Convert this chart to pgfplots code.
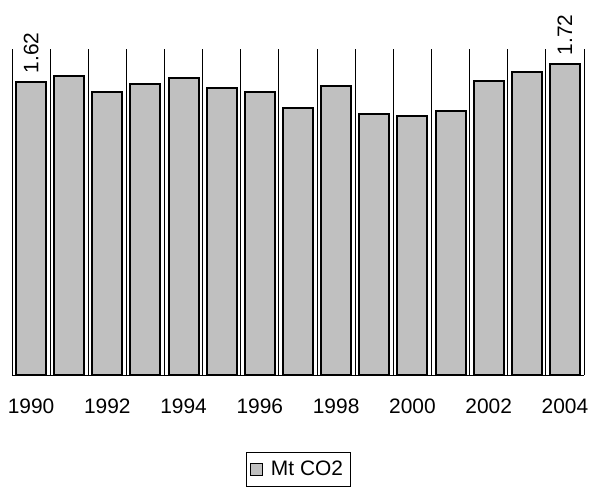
\documentclass[border=0pt]{standalone}
\usepackage{pgfplots}
\pgfplotsset{compat=1.18}
\usepackage{fontspec}
\setmainfont{Liberation Sans}
\definecolor{barfill}{RGB}{192,192,192}
\newcommand{\chartfont}{\fontsize{21}{25}\selectfont}
\begin{document}
\begin{tikzpicture}
\begin{axis}[
  scale only axis,
  width=572bp, height=326bp,
  xmin=-0.5, xmax=14.5, ymin=0, ymax=1.8,
  axis line style={draw=none},
  ytick=\empty,
  xtick={0,2,...,14},
  xticklabels={1990,1992,1994,1996,1998,2000,2002,2004},
  major tick length=0, minor tick length=0,
  minor xtick={-0.5,0.5,...,14.5},
  xminorgrids,
  minor grid style={black, line width=0.9bp},
  extra y ticks={0}, extra y tick labels={},
  extra y tick style={grid=major, major grid style={black, line width=0.9bp}},
  xticklabel style={font=\chartfont, yshift=-20bp},
  ybar, bar width=30bp, bar shift=0pt,
  legend style={at={(0.5,0)}, anchor=north, yshift=-77bp, draw=black,
    font=\chartfont, inner xsep=4bp, inner ysep=7bp, column sep=5bp,
    nodes={inner xsep=3bp}},
  legend image code/.code={\draw[fill=barfill, draw=black, line width=1bp] (2bp,-6bp) rectangle (14bp,6bp);},
]
\addplot[fill=barfill, draw=black, line width=2bp] coordinates {
  (0,1.620) (1,1.649) (2,1.565) (3,1.607) (4,1.640)
  (5,1.583) (6,1.561) (7,1.475) (8,1.598) (9,1.443)
  (10,1.432) (11,1.455) (12,1.622) (13,1.675) (14,1.719)
};
\addlegendentry{Mt CO2}
% value labels on the first and last year
\addplot[draw=none, fill=none, forget plot,
  nodes near coords={\pgfmathprintnumber[fixed,precision=2]{\pgfplotspointmeta}},
  every node near coord/.append style={rotate=90, anchor=west, font=\chartfont,
    inner xsep=8bp, /pgf/number format/assume math mode=true}
] coordinates {(0,1.62) (14,1.72)};
\end{axis}
\pgfresetboundingbox
\path ([shift={(-12bp,-115bp)}]current axis.south west) rectangle ([shift={(7bp,49bp)}]current axis.north east);
\end{tikzpicture}
\end{document}
